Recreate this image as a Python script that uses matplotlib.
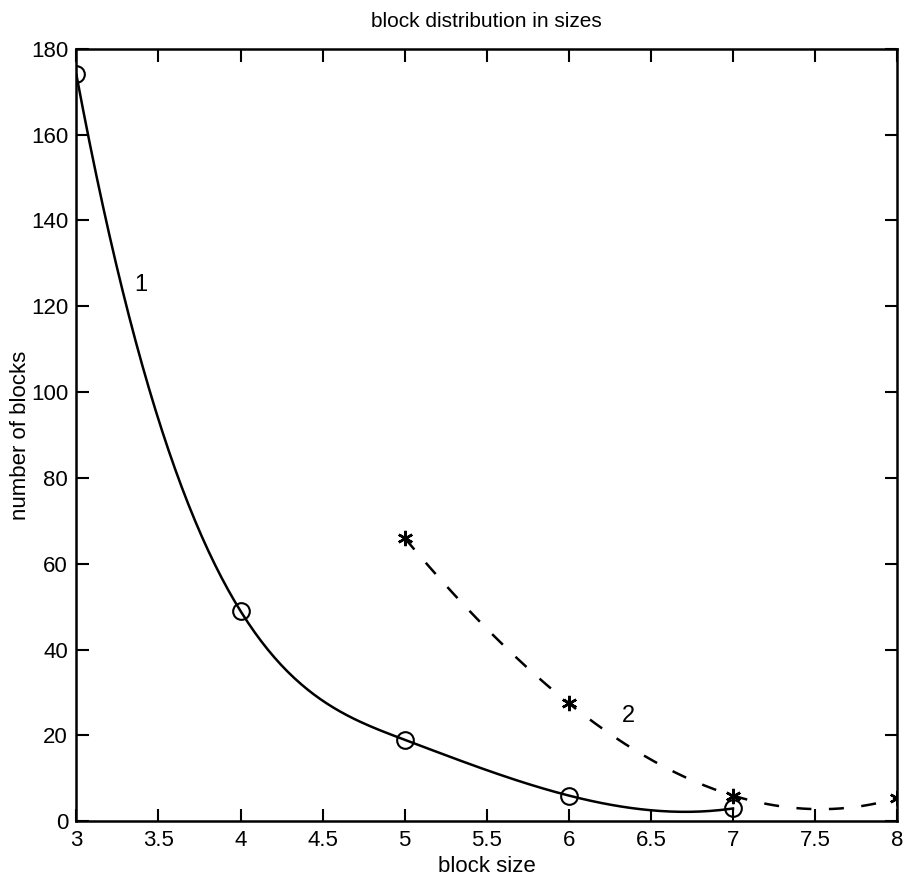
import numpy as np
import matplotlib
matplotlib.use("Agg")
import matplotlib.pyplot as plt

# data
x1 = [3, 4, 5, 6, 7]
y1 = [174, 49, 19, 6, 3]
x2 = [5, 6, 7, 8]
y2 = [66, 27.5, 6, 5.4]
xticks = [3, 3.5, 4, 4.5, 5, 5.5, 6, 6.5, 7, 7.5, 8]
xticklabels = ["3", "3.5", "4", "4.5", "5", "5.5", "6", "6.5", "7", "7.5", "8"]
yticks = [0, 20, 40, 60, 80, 100, 120, 140, 160, 180]


def spline_notaknot(x, y, n=200):
    """Cubic spline (not-a-knot, as in MATLAB's spline) evaluated for drawing."""
    x = np.asarray(x, float)
    y = np.asarray(y, float)
    m = len(x)
    h = np.diff(x)
    A = np.zeros((m, m))
    b = np.zeros(m)
    for i in range(1, m - 1):
        A[i, i - 1] = h[i - 1]
        A[i, i] = 2 * (h[i - 1] + h[i])
        A[i, i + 1] = h[i]
        b[i] = 3 * ((y[i + 1] - y[i]) / h[i] - (y[i] - y[i - 1]) / h[i - 1])
    if m > 3:
        A[0, 0] = h[1]
        A[0, 1] = -(h[0] + h[1])
        A[0, 2] = h[0]
        A[-1, -3] = h[-1]
        A[-1, -2] = -(h[-2] + h[-1])
        A[-1, -1] = h[-2]
    else:
        A[0, 0] = 1
        A[-1, -1] = 1
    c = np.linalg.solve(A, b)
    xs = np.linspace(x[0], x[-1], n)
    idx = np.clip(np.searchsorted(x, xs) - 1, 0, m - 2)
    dx = xs - x[idx]
    bb = (y[idx + 1] - y[idx]) / h[idx] - h[idx] * (2 * c[idx] + c[idx + 1]) / 3
    dd = (c[idx + 1] - c[idx]) / (3 * h[idx])
    ys = y[idx] + bb * dx + c[idx] * dx ** 2 + dd * dx ** 3
    return xs, ys


plt.rcParams['font.family'] = ['Liberation Sans', 'DejaVu Sans']

fig = plt.figure(figsize=(9.09, 8.86), dpi=100)
ax = fig.add_axes([0.084, 0.073, 0.903, 0.872])

sx1, sy1 = spline_notaknot(x1, y1)
ax.plot(sx1, sy1, color='black', lw=1.8)
ax.plot(x1, y1, linestyle='none', marker='o', ms=12, mfc='none', mec='black', mew=1.5)

sx2, sy2 = spline_notaknot(x2, y2)
ax.plot(sx2, sy2, color='black', lw=1.8, dashes=(6, 7))
ax.plot(x2, y2, linestyle='none', marker=(6, 2, 0), ms=11, mec='black', mew=1.8)

ax.text(3.39, 125, "1", fontsize=17, ha='center', va='center')
ax.text(6.36, 24.5, "2", fontsize=17, ha='center', va='center')

ax.set_xlim(3, 8)
ax.set_ylim(0, 180)
ax.set_xticks(xticks)
ax.set_xticklabels(xticklabels)
ax.set_yticks(yticks)
ax.tick_params(direction='in', length=9, width=1.5, top=True, right=True,
               labelsize=16, pad=6, colors='black')
for s in ax.spines.values():
    s.set_linewidth(1.8)

ax.set_title("block distribution in sizes", fontsize=15, pad=16)
ax.set_xlabel("block size", fontsize=16, labelpad=4)
ax.set_ylabel("number of blocks", fontsize=16, labelpad=0)

fig.savefig("out.png", dpi=100)
